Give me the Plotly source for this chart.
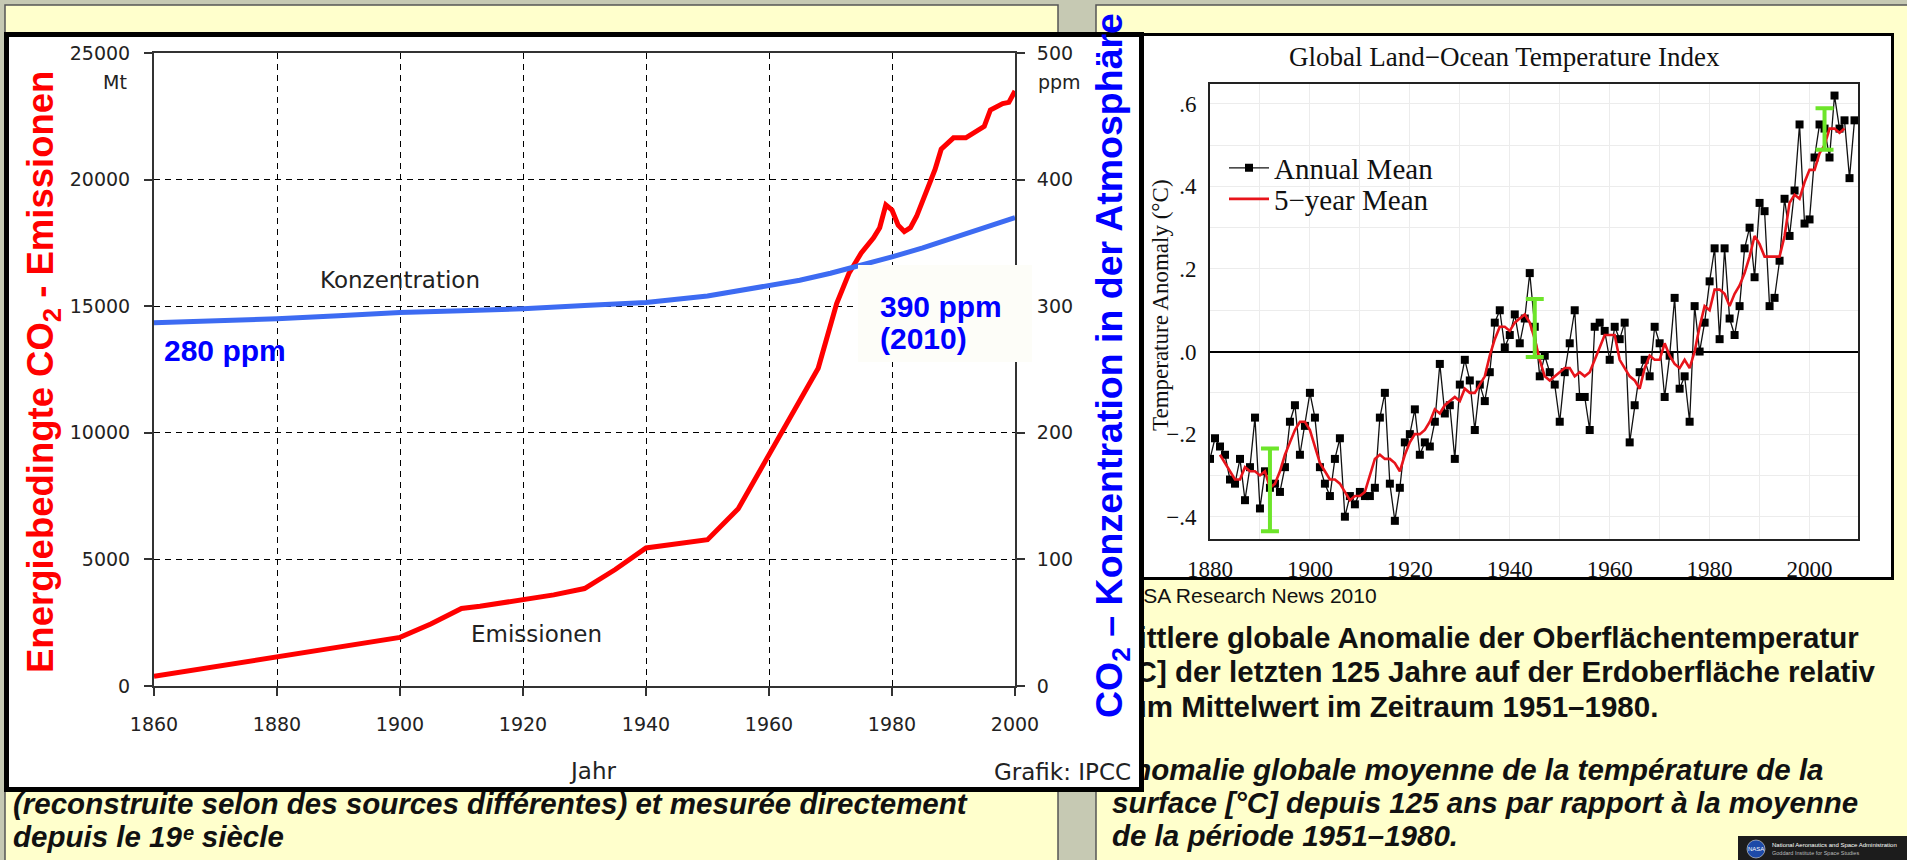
import plotly.graph_objects as go

W, H = 1907, 860

# ---------------- data: left chart (IPCC) ----------------
em_years = [1860, 1870, 1880, 1890, 1900, 1905, 1910, 1913, 1920, 1925, 1930, 1935, 1940, 1945, 1950,
            1955, 1960, 1965, 1968, 1971, 1973, 1975, 1977, 1978, 1979, 1980, 1981, 1982, 1983, 1984,
            1986, 1987, 1988, 1990, 1992, 1994, 1995, 1996, 1998, 1999, 2000]
em_mt = [380, 770, 1150, 1530, 1920, 2450, 3060, 3150, 3420, 3600, 3850, 4600, 5450, 5620, 5780,
         7000, 9100, 11200, 12550, 15100, 16300, 17100, 17700, 18100, 19000, 18800, 18200, 17950, 18100, 18550,
         19700, 20400, 21200, 21650, 21650, 21950, 22100, 22750, 23000, 23050, 23500]

co2_years = [1860, 1870, 1880, 1890, 1900, 1910, 1920, 1930, 1940, 1950, 1960, 1965, 1970, 1975, 1980,
             1985, 1990, 1995, 2000]
co2_ppm = [287, 288.5, 290, 292.5, 295, 296.5, 298, 300.5, 303, 308, 316, 320.5, 326, 332, 339,
           346, 354, 361, 370]

left_x_ticks = [1860, 1880, 1900, 1920, 1940, 1960, 1980, 2000]
left_y_ticks = [0, 5000, 10000, 15000, 20000, 25000]
left_y_text = ["0", "5000", "10000", "15000", "20000", "25000"]
ppm_ticks = [0, 100, 200, 300, 400, 500]

# ---------------- data: right chart (NASA GISS) ----------------
temp_years = list(range(1880, 2010))
annual_mean = [
    -0.26, -0.21, -0.23, -0.25, -0.31, -0.32, -0.26, -0.36, -0.28, -0.16,
    -0.38, -0.29, -0.33, -0.32, -0.34, -0.28, -0.17, -0.13, -0.25, -0.18,
    -0.10, -0.16, -0.28, -0.32, -0.35, -0.26, -0.21, -0.40, -0.35, -0.37,
    -0.34, -0.35, -0.35, -0.33, -0.16, -0.10, -0.32, -0.41, -0.33, -0.22,
    -0.20, -0.14, -0.25, -0.22, -0.23, -0.17, -0.03, -0.15, -0.13, -0.26,
    -0.08, -0.02, -0.07, -0.19, -0.08, -0.12, -0.05, 0.07, 0.10, 0.01,
    0.04, 0.09, 0.02, 0.08, 0.19, 0.06, -0.06, -0.01, -0.05, -0.08,
    -0.17, -0.05, 0.02, 0.10, -0.11, -0.11, -0.19, 0.06, 0.07, 0.05,
    -0.02, 0.06, 0.03, 0.07, -0.22, -0.13, -0.05, -0.02, -0.06, 0.06,
    0.02, -0.11, -0.01, 0.13, -0.09, -0.06, -0.17, 0.11, 0.00, 0.07,
    0.17, 0.25, 0.03, 0.25, 0.08, 0.04, 0.11, 0.25, 0.30, 0.18,
    0.36, 0.34, 0.11, 0.13, 0.22, 0.37, 0.28, 0.39, 0.55, 0.31,
    0.32, 0.47, 0.55, 0.54, 0.47, 0.62, 0.54, 0.56, 0.42, 0.56]

five_year_years = list(range(1882, 2008))
five_year_mean = [
    -0.25, -0.27, -0.29, -0.31, -0.31, -0.28, -0.29, -0.29,
    -0.30, -0.29, -0.33, -0.32, -0.29, -0.25, -0.22, -0.19, -0.17, -0.17,
    -0.19, -0.23, -0.27, -0.29, -0.31, -0.31, -0.32, -0.34, -0.36, -0.35,
    -0.35, -0.34, -0.30, -0.26, -0.25, -0.26, -0.26, -0.27, -0.29, -0.25,
    -0.22, -0.20, -0.20, -0.19, -0.17, -0.14, -0.15, -0.13, -0.12, -0.11,
    -0.12, -0.09, -0.10, -0.10, -0.08, -0.06, -0.01, 0.03, 0.06, 0.06,
    0.05, 0.07, 0.08, 0.09, 0.07, 0.03, -0.02, -0.06, -0.07, -0.06,
    -0.05, -0.04, -0.04, -0.06, -0.05, -0.06, -0.05, -0.02, 0.01, 0.04,
    0.04, 0.04, -0.02, -0.04, -0.06, -0.07, -0.09, -0.04, -0.01, -0.02,
    -0.02, 0.02, -0.01, -0.03, -0.04, -0.02, -0.04, 0.00, 0.06, 0.11,
    0.10, 0.15, 0.15, 0.14, 0.11, 0.14, 0.16, 0.19, 0.23, 0.28,
    0.26, 0.23, 0.23, 0.23, 0.23, 0.28, 0.36, 0.38, 0.37, 0.41,
    0.44, 0.44, 0.48, 0.50, 0.54, 0.54, 0.53, 0.54]

err_years = [1892, 1945, 2003]
err_center = [-0.335, 0.057, 0.539]
err_half = [0.10, 0.07, 0.05]

right_x_ticks = [1880, 1900, 1920, 1940, 1960, 1980, 2000]
right_x_minor = [1890, 1910, 1930, 1950, 1970, 1990, 2010]
right_y_ticks = [-0.4, -0.2, 0.0, 0.2, 0.4, 0.6]
right_y_text = ["\u2212.4", "\u2212.2", ".0", ".2", ".4", ".6"]
right_y_minor = [-0.3, -0.1, 0.1, 0.3, 0.5]

# caption texts of both panels
caption_lines = [
    "NASA Research News 2010",
    "<b>Mittlere globale Anomalie der Oberfl\u00e4chentemperatur</b>",
    "<b>[\u00b0C] der letzten 125 Jahre auf der Erdoberfl\u00e4che relativ</b>",
    "<b>zum Mittelwert im Zeitraum 1951\u20131980.</b>",
    "<b><i>Anomalie globale moyenne de la temp\u00e9rature de la</i></b>",
    "<b><i>surface [\u00b0C] depuis 125 ans par rapport \u00e0 la moyenne</i></b>",
    "<b><i>de la p\u00e9riode 1951\u20131980.</i></b>",
    "<b><i>(reconstruite selon des sources diff\u00e9rentes) et mesur\u00e9e directement</i></b>",
    "<b><i>depuis le 19\u1d49 si\u00e8cle</i></b>",
]

SANS = "Liberation Sans, Arial, Helvetica, DejaVu Sans, sans-serif"
DEJA = "DejaVu Sans, Verdana, sans-serif"
SERIF = "Liberation Serif, Times New Roman, serif"
BLUE_TXT = "#0000ff"
RED_TXT = "#ff0000"


def px(x):
    return x / W


def py(y):
    return 1 - y / H


fig = go.Figure()

fig.add_trace(go.Scatter(x=em_years, y=em_mt, mode="lines", line=dict(color="#ff0000", width=5),
                         xaxis="x", yaxis="y", showlegend=False, hoverinfo="skip"))
fig.add_trace(go.Scatter(x=co2_years, y=co2_ppm, mode="lines", line=dict(color="#3d6bf2", width=5),
                         xaxis="x", yaxis="y2", showlegend=False, hoverinfo="skip"))

fig.add_trace(go.Scatter(x=temp_years, y=annual_mean, mode="lines+markers", name="Annual Mean",
                         line=dict(color="#111111", width=1.3),
                         marker=dict(symbol="square", size=8, color="#000000"),
                         xaxis="x3", yaxis="y3", legend="legend"))
fig.add_trace(go.Scatter(x=five_year_years, y=five_year_mean, mode="lines", name="5\u2212year Mean",
                         line=dict(color="#e8141b", width=2.6), xaxis="x3", yaxis="y3", legend="legend2"))
fig.add_trace(go.Scatter(x=err_years, y=err_center, mode="markers", marker=dict(size=1, opacity=0),
                         error_y=dict(type="data", array=err_half, color="#6de52a", thickness=4, width=9),
                         xaxis="x3", yaxis="y3", showlegend=False, hoverinfo="skip"))

# captions on a full-page helper axis (pixel units)
cap_x = [1114, 1114, 1114, 1114, 1112, 1112, 1112, 13, 13]
cap_y = [598, 641, 675, 710, 773, 806, 839, 807, 840]
cap_size = [21, 29.5, 29.5, 29.5, 29.5, 29.5, 29.5, 29.5, 29.5]
for t, xx, yy, s in zip(caption_lines, cap_x, cap_y, cap_size):
    fig.add_trace(go.Scatter(x=[xx], y=[yy], mode="text", text=[t], textposition="middle right",
                             textfont=dict(family=SANS, size=s, color="#111111"), cliponaxis=False,
                             xaxis="x4", yaxis="y4", showlegend=False, hoverinfo="skip"))

shapes = [
    dict(type="rect", xref="paper", yref="paper", x0=px(5), x1=px(1058), y0=py(870), y1=py(5),
         fillcolor="#ffffcc", line=dict(color="#555555", width=1.5), layer="below"),
    dict(type="rect", xref="paper", yref="paper", x0=px(1096), x1=px(1915), y0=py(870), y1=py(5),
         fillcolor="#ffffcc", line=dict(color="#555555", width=1.5), layer="below"),
    dict(type="rect", xref="paper", yref="paper", x0=px(1100), x1=px(1892.5), y0=py(578.5), y1=py(34.5),
         fillcolor="#ffffff", line=dict(color="#000000", width=3), layer="below"),
    dict(type="rect", xref="paper", yref="paper", x0=px(6.5), x1=px(1141.5), y0=py(789.5), y1=py(34.5),
         fillcolor="#ffffff", line=dict(color="#000000", width=5), layer="below"),
    # part of the IPCC frame lying over the caption of the right panel
    dict(type="rect", xref="paper", yref="paper", x0=px(1080), x1=px(1139), y0=py(787), y1=py(585),
         fillcolor="#ffffff", line=dict(width=0), layer="above"),
    dict(type="rect", xref="paper", yref="paper", x0=px(1139), x1=px(1144), y0=py(792), y1=py(585),
         fillcolor="#000000", line=dict(width=0), layer="above"),
    # label box "390 ppm (2010)"
    dict(type="rect", xref="paper", yref="paper", x0=px(858), x1=px(1032), y0=py(362), y1=py(265),
         fillcolor="#fdfdf8", line=dict(width=0), layer="above"),
    # NASA logo strip
    dict(type="rect", xref="paper", yref="paper", x0=px(1738), x1=px(1910), y0=py(862), y1=py(836),
         fillcolor="#1c1c1c", line=dict(width=0), layer="above"),
    dict(type="circle", xref="paper", yref="paper", x0=px(1747), x1=px(1765), y0=py(858), y1=py(840),
         fillcolor="#1d4aa8", line=dict(color="#ffffff", width=0.5), layer="above"),
]

annotations = []


def ann(text, x, y, size, color="#000000", family=SANS, xanchor="left", yanchor="middle", angle=0, **kw):
    d = dict(text=text, x=px(x), y=py(y), xref="paper", yref="paper", showarrow=False,
             xanchor=xanchor, yanchor=yanchor, textangle=angle,
             font=dict(size=size, color=color, family=family))
    d.update(kw)
    annotations.append(d)


ann("Mt", 129, 82, 19, "#222222", DEJA, xanchor="right")
ann("ppm", 1036, 82, 19, "#222222", DEJA)
ann("Konzentration", 400, 280, 23, "#222222", DEJA, xanchor="center")
ann("Emissionen", 536, 634, 23, "#222222", DEJA, xanchor="center")
ann("Jahr", 592, 771, 23, "#222222", DEJA, xanchor="center")
ann("<b>Energiebedingte CO<sub>2</sub> - Emissionen</b>", 43, 372, 36.5, RED_TXT, angle=-90, xanchor="center")
ann("<b>280 ppm</b>", 162, 350, 30, BLUE_TXT)
ann("<b>390 ppm</b>", 878, 306, 30, BLUE_TXT)
ann("<b>(2010)</b>", 878, 338, 30, BLUE_TXT)
ann("<b>CO<sub>2</sub> \u2013 Konzentration in der Atmosph\u00e4re</b>", 1112, 366, 37.5, BLUE_TXT,
    angle=-90, xanchor="center")
ann("Grafik: IPCC", 1133, 772, 23, "#222222", DEJA, xanchor="right")

ann("Global Land\u2212Ocean Temperature Index", 1504, 57, 27, "#111111", SERIF, xanchor="center")
ann("Temperature Anomaly (\u00b0C)", 1161, 305, 23, "#111111", SERIF, xanchor="center", angle=-90)

ann("NASA", 1756, 849, 6, "#ffffff", SANS, xanchor="center")
ann("National Aeronautics and Space Administration", 1770, 845, 6, "#ffffff", SANS)
ann("Goddard Institute for Space Studies", 1770, 853, 5.5, "#bbbbbb", SANS)

legend_common = dict(xanchor="left", yanchor="middle", bgcolor="rgba(0,0,0,0)",
                     font=dict(family=SERIF, size=29, color="#111111"), itemwidth=40)

fig.update_layout(
    width=W, height=H,
    margin=dict(l=0, r=0, t=0, b=0, autoexpand=False),
    paper_bgcolor="#c6c9b3",
    plot_bgcolor="rgba(0,0,0,0)",
    shapes=shapes,
    annotations=annotations,
    showlegend=True,
    legend=dict(x=px(1224), y=py(168), **legend_common),
    legend2=dict(x=px(1224), y=py(199), **legend_common),
    xaxis=dict(domain=[px(154), px(1015)], range=[1860, 2000], anchor="y",
               tickmode="array", tickvals=left_x_ticks,
               showline=True, linecolor="#333333", linewidth=2, mirror=True,
               ticks="outside", ticklen=8, tickwidth=1.5, tickcolor="#333333",
               showgrid=True, gridcolor="#000000", gridwidth=1.3, griddash="6px,5px",
               zeroline=False, ticklabelstandoff=12,
               tickfont=dict(family=DEJA, size=19, color="#222222")),
    yaxis=dict(domain=[py(686), py(53)], range=[0, 25000], anchor="x",
               tickmode="array", tickvals=left_y_ticks, ticktext=left_y_text,
               showline=True, linecolor="#333333", linewidth=2,
               ticks="outside", ticklen=8, tickwidth=1.5, tickcolor="#333333",
               showgrid=True, gridcolor="#000000", gridwidth=1.3, griddash="6px,5px",
               zeroline=False, ticklabelstandoff=10,
               tickfont=dict(family=DEJA, size=19, color="#222222")),
    yaxis2=dict(overlaying="y", side="right", anchor="x", range=[0, 500],
                tickmode="array", tickvals=ppm_ticks,
                showline=True, linecolor="#333333", linewidth=2,
                ticks="outside", ticklen=8, tickwidth=1.5, tickcolor="#333333",
                showgrid=False, zeroline=False, ticklabelstandoff=8,
                tickfont=dict(family=DEJA, size=19, color="#222222")),
    xaxis3=dict(domain=[px(1210), px(1858)], range=[1880, 2009.7], anchor="y3",
                tickmode="array", tickvals=right_x_ticks,
                showline=True, linecolor="#222222", linewidth=2, mirror=True,
                ticks="", showgrid=True, gridcolor="#ececec", gridwidth=1,
                minor=dict(tickvals=right_x_minor, showgrid=True, gridcolor="#ececec", gridwidth=1),
                zeroline=False, ticklabelstandoff=8,
                tickfont=dict(family=SERIF, size=23, color="#111111")),
    yaxis3=dict(domain=[py(539), py(84)], range=[-0.454, 0.648], anchor="x3",
                tickmode="array", tickvals=right_y_ticks, ticktext=right_y_text,
                showline=True, linecolor="#222222", linewidth=2, mirror=True,
                ticks="", showgrid=True, gridcolor="#ececec", gridwidth=1,
                minor=dict(tickvals=right_y_minor, showgrid=True, gridcolor="#ececec", gridwidth=1),
                zeroline=True, zerolinecolor="#000000", zerolinewidth=2, ticklabelstandoff=7,
                tickfont=dict(family=SERIF, size=23, color="#111111")),
    xaxis4=dict(domain=[0, 1], range=[0, W], anchor="y4", visible=False, fixedrange=True),
    yaxis4=dict(domain=[0, 1], range=[H, 0], anchor="x4", visible=False, fixedrange=True),
)

fig.write_html("out.html", config={"displayModeBar": False},
               post_script="document.body.style.margin='0px';document.body.style.overflow='hidden';")
